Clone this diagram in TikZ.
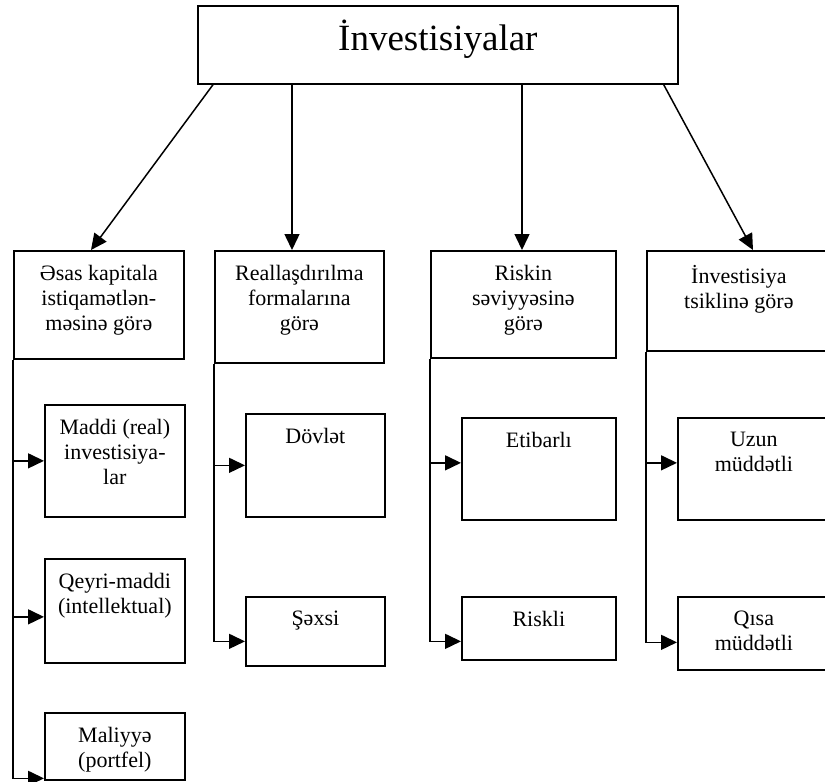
\documentclass[tikz,border=0pt]{standalone}
\usepackage{fontspec}
\setmainfont{Liberation Serif}
\usepackage{tikz}
\usetikzlibrary{arrows.meta, positioning}

\begin{document}
\begin{tikzpicture}[x=1pt, y=-1pt,
    box/.style={draw, line width=1.7pt, rectangle, anchor=north west, inner sep=0pt},
    txt/.style={anchor=north, align=center, inner sep=0pt, yshift=-15pt,
      font=\fontsize{22}{25}\selectfont},
    link/.style={line width=1.5pt, -{Triangle[length=16pt, width=15pt]}}]
      \useasboundingbox (0,0) rectangle (825,782);

      % Top
      \node[box, minimum width=480, minimum height=78,
        label={[txt, font=\fontsize{37}{40}\selectfont]north:İnvestisiyalar}] (inv) at (197,5) {};

      % Groups
      \node[box, minimum width=170, minimum height=108,
        label={[txt]north:Əsas kapitala\\istiqamətlən-\\məsinə görə}] (c1) at (13,250) {};
      \node[box, minimum width=169, minimum height=112,
        label={[txt]north:Reallaşdırılma\\formalarına\\görə}] (c2) at (214,250) {};
      \node[box, minimum width=185, minimum height=107,
        label={[txt]north:Riskin\\səviyyəsinə\\görə}] (c3) at (430,250) {};
      \node[box, minimum width=184, minimum height=100,
        label={[txt]north:İnvestisiya\\tsiklinə görə}] (c4) at (646,250) {};

      \draw[link] ([xshift=16pt]inv.south west) -- ([xshift=78pt]c1.north west);
      \draw[link] ([xshift=95pt]inv.south west) -- ([xshift=95pt]inv.south west |- c2.north);
      \draw[link] ([xshift=325pt]inv.south west) -- ([xshift=325pt]inv.south west |- c3.north);
      \draw[link] ([xshift=-15pt]inv.south east) -- ([xshift=107pt]c4.north west);

      % Kinds
      \node[box, minimum width=140, minimum height=112,
        label={[txt]north:Maddi (real)\\investisiya-\\lar}] (m1) at (44,404) {};
      \node[box, minimum width=140, minimum height=104,
        label={[txt]north:Qeyri-maddi\\(intellektual)}] (m2) at (44,558) {};
      \node[box, minimum width=140, minimum height=67,
        label={[txt]north:Maliyyə\\(portfel)}] (m3) at (44,712) {};

      \draw[link] (c1.south west) |- ([yshift=-32pt]m3.west);
      \draw[link] (c1.south west |- m1.west) -- (m1.west);
      \draw[link] ([yshift=-6pt]m2.west -| c1.west) -- ([yshift=-6pt]m2.west);

      % Forms
      \node[box, minimum width=139, minimum height=103,
        label={[txt]north:Dövlət}] (d1) at (245,413) {};
      \node[box, minimum width=139, minimum height=69,
        label={[txt]north:Şəxsi}] (d2) at (245,596) {};

      \draw[link] (c2.south west) |- ([yshift=-10pt]d2.west);
      \draw[link] (c2.south west |- d1.west) -- (d1.west);

      % Risk
      \node[box, minimum width=154, minimum height=102,
        label={[txt]north:Etibarlı}] (r1) at (461,417) {};
      \node[box, minimum width=154, minimum height=63,
        label={[txt]north:Riskli}] (r2) at (461,596) {};

      \draw[link] (c3.south west) |- ([yshift=-13pt]r2.west);
      \draw[link] ([yshift=6pt]r1.west -| c3.west) -- ([yshift=6pt]r1.west);

      % Cycle
      \node[box, minimum width=152, minimum height=102,
        label={[txt]north:Uzun\\müddətli}] (t1) at (677,417) {};
      \node[box, minimum width=152, minimum height=73,
        label={[txt]north:Qısa\\müddətli}] (t2) at (677,596) {};

      \draw[link] (c4.south west) |- ([yshift=-9pt]t2.west);
      \draw[link] ([yshift=6pt]t1.west -| c4.west) -- ([yshift=6pt]t1.west);
\end{tikzpicture}
\end{document}
